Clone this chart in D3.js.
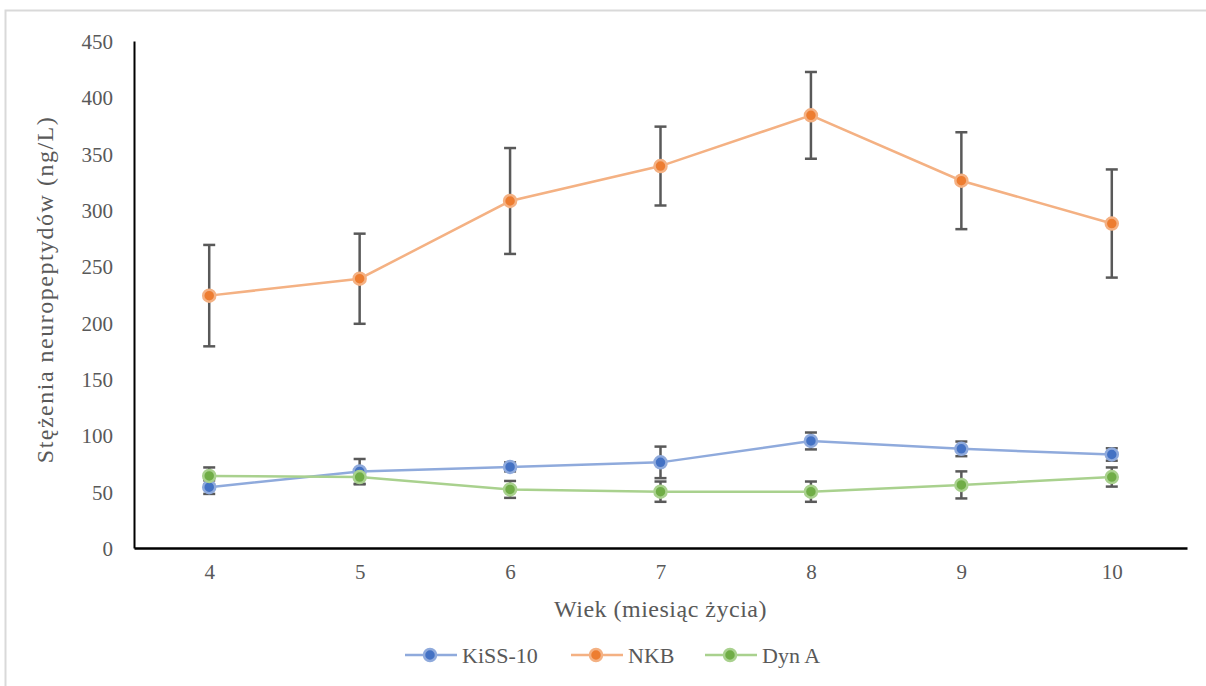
<!DOCTYPE html>
<html lang="pl">
<head>
<meta charset="utf-8">
<script src="https://cdn.jsdelivr.net/npm/d3@7"></script>
<style>
  html, body { margin: 0; padding: 0; background: #fff; }
  svg { display: block; }
  svg text { font-family: "Liberation Serif", "Tinos", "DejaVu Serif", "Noto Serif", "Times New Roman", Times, serif !important; fill: #595959; }
</style>
</head>
<body>
<svg id="chart" width="1206" height="686"></svg>
<script>
// Wiek (miesiąc życia)
const months = [4, 5, 6, 7, 8, 9, 10];

// Średnie stężenia (ng/L) i odchylenia
const kissMean = [54, 68, 72, 76, 95, 88, 83];
const kissErr  = [6, 11, 4, 14, 7.5, 6.5, 5.5];
const nkbMean  = [224, 239, 308, 339, 384, 326, 288];
const nkbErr   = [45, 40, 47, 35, 38.5, 43, 48];
const dynMean  = [64, 63, 52, 50, 50, 56, 63];
const dynErr   = [7.5, 6.5, 7.5, 9, 9, 12, 8.5];

const yTicks = [0, 50, 100, 150, 200, 250, 300, 350, 400, 450];

const seriesNames = ["KiSS-10", "NKB", "Dyn A"];
const seriesMarker = ["#4472C4", "#ED7D31", "#70AD47"];
const seriesLine = ["#8FAADC", "#F4B183", "#A9D18E"];

const series = [
  { name: seriesNames[0], mean: kissMean, err: kissErr, marker: seriesMarker[0], line: seriesLine[0] },
  { name: seriesNames[1], mean: nkbMean,  err: nkbErr,  marker: seriesMarker[1], line: seriesLine[1] },
  { name: seriesNames[2], mean: dynMean,  err: dynErr,  marker: seriesMarker[2], line: seriesLine[2] }
];

const svg = d3.select("#chart");

// chart frame
svg.append("rect")
  .attr("x", 5.5).attr("y", 10.5)
  .attr("width", 1210).attr("height", 690)
  .attr("fill", "#fff").attr("stroke", "#d9d9d9").attr("stroke-width", 2);

const plot = { left: 134, right: 1187, top: 41, bottom: 548 };

const x = d3.scalePoint()
  .domain(months)
  .range([plot.left, plot.right])
  .padding(0.5);

const y = d3.scaleLinear()
  .domain([0, 450])
  .range([plot.bottom, plot.top]);

// y axis: line + labels
const yAxis = svg.append("g")
  .attr("transform", `translate(${plot.left},0)`)
  .call(d3.axisLeft(y).tickValues(yTicks).tickSize(0).tickPadding(21));
yAxis.attr("font-family", null);
yAxis.select(".domain").attr("stroke", "#000").attr("stroke-width", 2);
yAxis.selectAll("text")
  .attr("font-size", 21)
  .attr("fill", "#595959")
  .attr("dy", "0.35em");

// x axis
const xAxis = svg.append("g")
  .attr("transform", `translate(0,${plot.bottom})`)
  .call(d3.axisBottom(x).tickSize(0).tickPadding(16));
xAxis.attr("font-family", null);
xAxis.select(".domain").attr("stroke", "#000").attr("stroke-width", 2.5);
xAxis.selectAll("text")
  .attr("font-size", 21)
  .attr("fill", "#595959");

// axis titles
svg.append("text")
  .attr("x", (plot.left + plot.right) / 2)
  .attr("y", 617)
  .attr("text-anchor", "middle")
  .attr("font-size", 24)
  .attr("letter-spacing", 0.5)
  .text("Wiek (miesiąc życia)");

svg.append("text")
  .attr("transform", `translate(53,${(plot.top + plot.bottom) / 2 - 5}) rotate(-90)`)
  .attr("text-anchor", "middle")
  .attr("font-size", 24)
  .attr("letter-spacing", 1.5)
  .text("Stężenia neuropeptydów (ng/L)");

const line = d3.line()
  .x((d, i) => x(months[i]))
  .y(d => y(d));

// lines
series.forEach(s => {
  svg.append("path")
    .datum(s.mean)
    .attr("fill", "none")
    .attr("stroke", s.line)
    .attr("stroke-width", 2.5)
    .attr("d", line);
});

// error bars
series.forEach(s => {
  const g = svg.append("g").attr("stroke", "#595959").attr("stroke-width", 2.5);
  s.mean.forEach((m, i) => {
    const cx = x(months[i]);
    const top = y(m + s.err[i]);
    const bot = y(m - s.err[i]);
    g.append("line").attr("x1", cx).attr("x2", cx).attr("y1", top).attr("y2", bot);
    g.append("line").attr("x1", cx - 6).attr("x2", cx + 6).attr("y1", top).attr("y2", top);
    g.append("line").attr("x1", cx - 6).attr("x2", cx + 6).attr("y1", bot).attr("y2", bot);
  });
});

// markers
series.forEach(s => {
  svg.append("g")
    .selectAll("circle")
    .data(s.mean)
    .join("circle")
    .attr("cx", (d, i) => x(months[i]))
    .attr("cy", d => y(d))
    .attr("r", 6)
    .attr("fill", s.marker)
    .attr("stroke", s.line)
    .attr("stroke-width", 2.5);
});

// legend
const legendX = [405, 571, 705];
const legendY = 655;
series.forEach((s, i) => {
  const g = svg.append("g").attr("transform", `translate(${legendX[i]},${legendY})`);
  g.append("line").attr("x1", 0).attr("x2", 52).attr("y1", 0).attr("y2", 0)
    .attr("stroke", s.line).attr("stroke-width", 2.5);
  g.append("circle").attr("cx", 25).attr("cy", 0).attr("r", 6)
    .attr("fill", s.marker).attr("stroke", s.line).attr("stroke-width", 2.5);
  g.append("text").attr("x", 57).attr("y", 0).attr("dy", "0.35em")
    .attr("font-size", 22).text(s.name);
});
</script>
</body>
</html>
